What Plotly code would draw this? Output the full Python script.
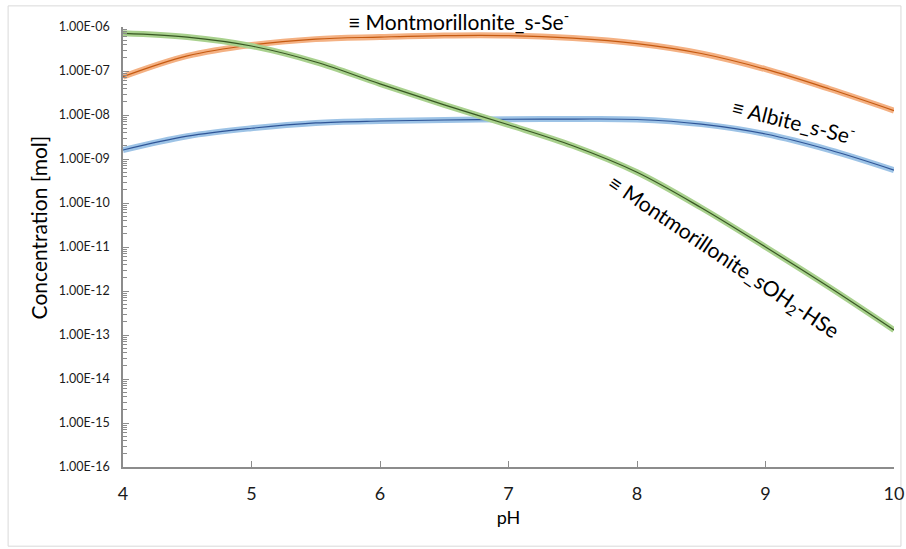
import plotly.graph_objects as go

ph = [4.0, 4.5, 5.0, 5.5, 6.0, 6.5, 7.0, 7.5, 8.0, 8.5, 9.0, 9.5, 10.0]

mont_s_se = [7.4e-8, 2.2e-7, 3.9e-7, 5.3e-7, 5.9e-7, 6.4e-7, 6.4e-7, 5.6e-7,
             4.2e-7, 2.5e-7, 1.1e-7, 3.9e-8, 1.26e-8]
albite_s_se = [1.6e-9, 3.3e-9, 5.0e-9, 6.6e-9, 7.3e-9, 7.7e-9, 8.0e-9, 8.1e-9,
               7.9e-9, 6.2e-9, 3.7e-9, 1.6e-9, 5.6e-10]
mont_soh2_hse = [7.2e-7, 5.9e-7, 3.7e-7, 1.6e-7, 5.1e-8, 1.7e-8, 6.0e-9, 2.0e-9,
                 5.0e-10, 7.8e-11, 1.0e-11, 1.2e-12, 1.3e-13]

y_tick_vals = [1e-16, 1e-15, 1e-14, 1e-13, 1e-12, 1e-11, 1e-10, 1e-9, 1e-8, 1e-7, 1e-6]
y_tick_text = ["1.00E-16", "1.00E-15", "1.00E-14", "1.00E-13", "1.00E-12", "1.00E-11",
               "1.00E-10", "1.00E-09", "1.00E-08", "1.00E-07", "1.00E-06"]
x_tick_vals = [4, 5, 6, 7, 8, 9, 10]

# minor log ticks (2..9 within each decade)
y_minor_vals = [k * d for d in y_tick_vals[:-1] for k in range(2, 10)]

series = [
    ("Montmorillonite_s-Se", mont_s_se, "#F4B183", "#C55A11"),
    ("Albite_s-Se", albite_s_se, "#9DC3E6", "#2F5597"),
    ("Montmorillonite_sOH2-HSe", mont_soh2_hse, "#A9D18E", "#385723"),
]

fig = go.Figure()
for name, vals, light, dark in series:
    fig.add_trace(go.Scatter(x=ph, y=vals, mode="lines", name=name,
                             line=dict(color=light, width=6, shape="spline", smoothing=1.0),
                             showlegend=False, hoverinfo="skip"))
    fig.add_trace(go.Scatter(x=ph, y=vals, mode="lines", name=name,
                             line=dict(color=dark, width=1.2, shape="spline", smoothing=1.0),
                             showlegend=False))

font_family = "Lato, 'Open Sans', sans-serif"
axis_color = "#8C8C8C"

fig.update_layout(
    width=906, height=549,
    margin=dict(l=123, r=12, t=27, b=82),
    paper_bgcolor="white", plot_bgcolor="white",
    font=dict(family=font_family, color="#000000"),
    xaxis=dict(
        range=[4, 10], tickvals=x_tick_vals, ticks="inside", ticklen=6,
        tickcolor=axis_color, showline=True, linecolor=axis_color, linewidth=1.5,
        showgrid=False, zeroline=False, tickfont=dict(size=18, color="#1a1a1a"),
        ticklabelstandoff=10, automargin=False,
        title=dict(text="pH", font=dict(size=18), standoff=8),
    ),
    yaxis=dict(
        type="log", range=[-16, -6], tickvals=y_tick_vals, ticktext=y_tick_text,
        ticks="inside", ticklen=6, tickcolor=axis_color, showline=True,
        linecolor=axis_color, linewidth=1.5, showgrid=False, zeroline=False,
        tickfont=dict(size=12.5, color="#1a1a1a"), ticklabelstandoff=9, automargin=False,
        minor=dict(tickvals=y_minor_vals, ticks="inside", ticklen=4,
                   tickcolor=axis_color, showgrid=False),
    ),
)

fig.add_shape(type="rect", xref="paper", yref="paper",
              x0=-0.149, x1=1.009, y0=-0.18, y1=1.048,
              line=dict(color="#D9D9D9", width=1), layer="below")

fig.add_annotation(x=-0.110, y=0.545, xref="paper", yref="paper",
                   text="Concentration [mol]", showarrow=False, textangle=-90,
                   xanchor="center", yanchor="middle",
                   font=dict(size=21, family=font_family))
fig.add_annotation(x=6.61, y=1.016, xref="x", yref="paper", yanchor="middle",
                   text="≡ Montmorillonite_s-Se<sup>-</sup>", showarrow=False,
                   font=dict(size=21, family=font_family))
fig.add_annotation(x=9.22, y=-8.114, xref="x", yref="y",
                   text="≡ Albite_s-Se<sup>-</sup>", showarrow=False, textangle=14,
                   font=dict(size=21, family=font_family))
fig.add_annotation(x=8.67, y=-11.227, xref="x", yref="y",
                   text="≡ Montmorillonite_sOH<sub>2</sub>-HSe", showarrow=False, textangle=34,
                   font=dict(size=21, family=font_family))

fig.write_html("out.html", config={"displayModeBar": False},
               post_script="document.body.style.margin='0';")
